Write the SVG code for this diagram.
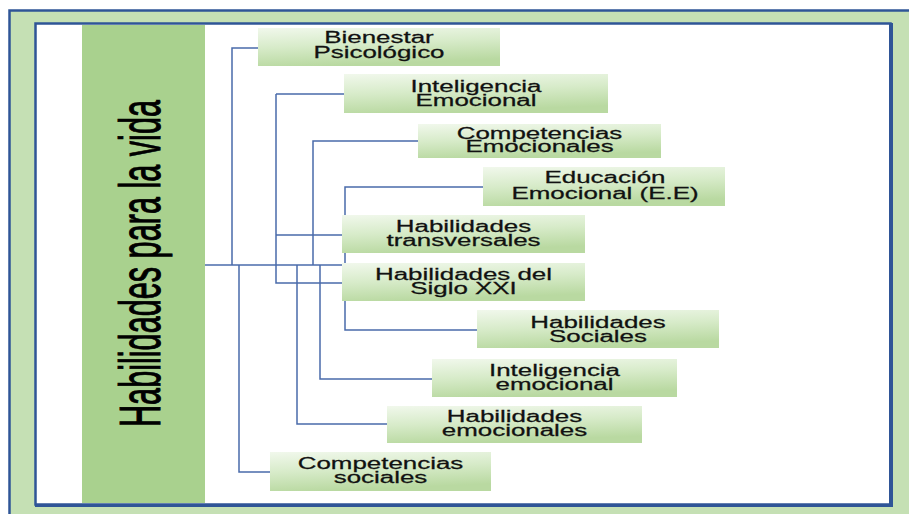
<svg xmlns="http://www.w3.org/2000/svg" width="909" height="514" viewBox="0 0 909 514">
<defs>
<linearGradient id="g" x1="0" y1="0" x2="0.25" y2="1">
<stop offset="0" stop-color="#f1f8ec"/>
<stop offset="0.5" stop-color="#d7ebc9"/>
<stop offset="1" stop-color="#b9d9a1"/>
</linearGradient>
<style>
.box{fill:url(#g);stroke:none}
.t{font-family:"Liberation Sans",Arial,sans-serif;font-size:16px;fill:#111;stroke:#111;stroke-width:0.25;text-anchor:middle}
.c{fill:none;stroke:#4a6bab;stroke-width:1.5}
</style>
</defs>
<rect x="0" y="0" width="909" height="514" fill="#fff"/>
<rect x="9.5" y="10.5" width="910" height="520" fill="#c5e0b4" stroke="#2f5597" stroke-width="2.5"/>
<rect x="35.5" y="23.5" width="855" height="481" fill="#fff" stroke="#2f5597" stroke-width="2.5"/>
<line x1="891" y1="23" x2="891" y2="507" stroke="#2f5597" stroke-width="4"/>
<line x1="35" y1="505.5" x2="893" y2="505.5" stroke="#2f5597" stroke-width="3"/>
<g id="root">
<rect x="82" y="25" width="123" height="478" fill="#a9d18e"/>
<text font-family="'Liberation Sans',Arial,sans-serif" font-size="58" fill="#000" stroke="#000" stroke-width="1" text-anchor="middle" transform="translate(160 263.5) rotate(-90)" textLength="327" lengthAdjust="spacingAndGlyphs">Habilidades para la vida</text>
</g>
<g id="connectors">
<path class="c" d="M205 265 H342"/>
<path class="c" d="M232 265 V48 H258"/>
<path class="c" d="M276 94 H344 M276 94 V283 H342 M276 235 H342"/>
<path class="c" d="M313 265 V141 H418"/>
<path class="c" d="M483 187 H345 V330 H477"/>
<path class="c" d="M239 265 V472 H270"/>
<path class="c" d="M297 265 V424 H387"/>
<path class="c" d="M320 265 V379 H432"/>
</g>
<g id="n1"><rect class="box" x="258" y="28" width="242" height="38"/>
<text class="t" transform="translate(379 0) scale(1.62 1)"><tspan x="0" y="43">Bienestar</tspan><tspan x="0" y="58">Psicológico</tspan></text></g>
<g id="n2"><rect class="box" x="344" y="74" width="264" height="39"/>
<text class="t" transform="translate(476 0) scale(1.62 1)"><tspan x="0" y="92">Inteligencia</tspan><tspan x="0" y="106">Emocional</tspan></text></g>
<g id="n3"><rect class="box" x="418" y="124" width="243" height="34"/>
<text class="t" transform="translate(539.5 0) scale(1.62 1)"><tspan x="0" y="139">Competencias</tspan><tspan x="0" y="152">Emocionales</tspan></text></g>
<g id="n4"><rect class="box" x="483" y="167" width="242" height="39"/>
<text class="t" transform="translate(605 0) scale(1.62 1)"><tspan x="0" y="183">Educación</tspan><tspan x="0" y="199">Emocional (E.E)</tspan></text></g>
<g id="n5"><rect class="box" x="342" y="215" width="243" height="38"/>
<text class="t" transform="translate(463.5 0) scale(1.62 1)"><tspan x="0" y="232">Habilidades</tspan><tspan x="0" y="246">transversales</tspan></text></g>
<g id="n6"><rect class="box" x="342" y="263" width="243" height="38"/>
<text class="t" transform="translate(463.5 0) scale(1.62 1)"><tspan x="0" y="280">Habilidades del</tspan><tspan x="0" y="294">Siglo XXI</tspan></text></g>
<g id="n7"><rect class="box" x="477" y="310" width="242" height="38"/>
<text class="t" transform="translate(598 0) scale(1.62 1)"><tspan x="0" y="328">Habilidades</tspan><tspan x="0" y="342">Sociales</tspan></text></g>
<g id="n8"><rect class="box" x="432" y="359" width="245" height="38"/>
<text class="t" transform="translate(554.5 0) scale(1.62 1)"><tspan x="0" y="376">Inteligencia</tspan><tspan x="0" y="390">emocional</tspan></text></g>
<g id="n9"><rect class="box" x="387" y="406" width="255" height="37"/>
<text class="t" transform="translate(514.5 0) scale(1.62 1)"><tspan x="0" y="422">Habilidades</tspan><tspan x="0" y="436">emocionales</tspan></text></g>
<g id="n10"><rect class="box" x="270" y="452" width="221" height="39"/>
<text class="t" transform="translate(380.5 0) scale(1.62 1)"><tspan x="0" y="469">Competencias</tspan><tspan x="0" y="483">sociales</tspan></text></g>
</svg>
